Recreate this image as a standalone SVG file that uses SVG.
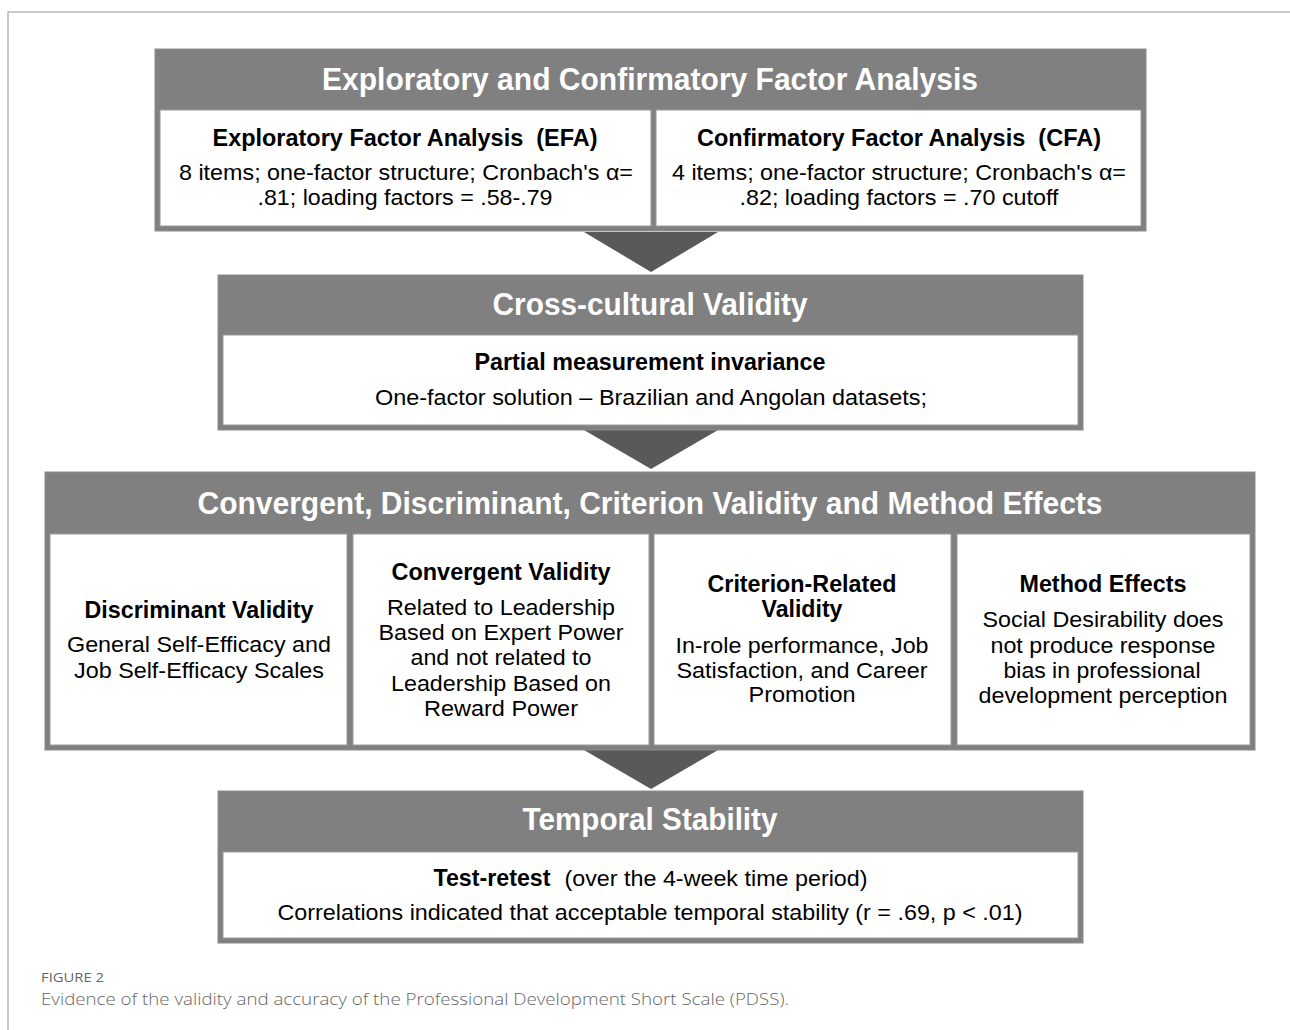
<svg xmlns="http://www.w3.org/2000/svg" width="1290" height="1030" viewBox="0 0 1290 1030">
<style>
.frame{stroke:#b8b8b8;stroke-width:1.5;fill:none}
.outer{fill:#808080;stroke:#8c8c8c;stroke-width:1}
.panel{fill:#ffffff;stroke:#9a9a9a;stroke-width:1}
.arrow{fill:#595959}
.hd{font-family:"Liberation Sans",Arial,sans-serif;font-weight:bold;font-size:31px;fill:#ffffff;text-anchor:middle}
.sh{font-family:"Liberation Sans",Arial,sans-serif;font-weight:bold;font-size:23px;fill:#000000;text-anchor:middle}
.bd{font-family:"Liberation Sans",Arial,sans-serif;font-size:22px;fill:#000000;text-anchor:middle}
.cap1{font-family:"Open Sans","Liberation Sans",sans-serif;font-size:13px;fill:#666666}
.cap2{font-family:"Open Sans","Liberation Sans",sans-serif;font-weight:300;font-size:16.5px;fill:#666666}
</style>
<rect x="0" y="0" width="1290" height="1030" fill="#ffffff"/>
<path class="frame" d="M1290,12 H8 V1030"/>

<g id="connectors">
<polygon class="arrow" points="584,232 718,232 651,272"/>
<polygon class="arrow" points="584,430 718,430 651,469"/>
<polygon class="arrow" points="584,750 718,750 651,789"/>
</g>

<g id="node-factor-analysis">
<rect class="outer" x="155" y="49" width="991" height="182"/>
<text class="hd" x="650" y="90" textLength="656" lengthAdjust="spacingAndGlyphs">Exploratory and Confirmatory Factor Analysis</text>
<g id="node-efa">
<rect class="panel" x="160" y="110" width="491" height="116"/>
<text class="sh" x="405" y="146" textLength="385" lengthAdjust="spacingAndGlyphs" xml:space="preserve">Exploratory Factor Analysis  (EFA)</text>
<text class="bd" x="406" y="180" textLength="454" lengthAdjust="spacingAndGlyphs">8 items; one-factor structure; Cronbach's α=</text>
<text class="bd" x="405" y="205" textLength="295" lengthAdjust="spacingAndGlyphs">.81; loading factors = .58-.79</text>
</g>
<g id="node-cfa">
<rect class="panel" x="656" y="110" width="485" height="116"/>
<text class="sh" x="899" y="146" textLength="404" lengthAdjust="spacingAndGlyphs" xml:space="preserve">Confirmatory Factor Analysis  (CFA)</text>
<text class="bd" x="899" y="180" textLength="454" lengthAdjust="spacingAndGlyphs">4 items; one-factor structure; Cronbach's α=</text>
<text class="bd" x="899" y="205" textLength="319" lengthAdjust="spacingAndGlyphs">.82; loading factors = .70 cutoff</text>
</g>
</g>

<g id="node-cross-cultural">
<rect class="outer" x="218" y="275" width="865" height="155"/>
<text class="hd" x="650" y="315" textLength="315" lengthAdjust="spacingAndGlyphs">Cross-cultural Validity</text>
<rect class="panel" x="223" y="335" width="855" height="90"/>
<text class="sh" x="650" y="370" textLength="351" lengthAdjust="spacingAndGlyphs">Partial measurement invariance</text>
<text class="bd" x="651" y="405" textLength="552" lengthAdjust="spacingAndGlyphs">One-factor solution – Brazilian and Angolan datasets;</text>
</g>

<g id="node-validity">
<rect class="outer" x="45" y="472" width="1210" height="278"/>
<text class="hd" x="650" y="514" textLength="905" lengthAdjust="spacingAndGlyphs">Convergent, Discriminant, Criterion Validity and Method Effects</text>
<g id="node-discriminant">
<rect class="panel" x="50" y="534" width="297" height="211"/>
<text class="sh" x="199" y="618" textLength="229" lengthAdjust="spacingAndGlyphs">Discriminant Validity</text>
<text class="bd" x="199" y="652" textLength="264" lengthAdjust="spacingAndGlyphs">General Self-Efficacy and</text>
<text class="bd" x="199" y="678" textLength="250" lengthAdjust="spacingAndGlyphs">Job Self-Efficacy Scales</text>
</g>
<g id="node-convergent">
<rect class="panel" x="353" y="534" width="296" height="211"/>
<text class="sh" x="501" y="580" textLength="219" lengthAdjust="spacingAndGlyphs">Convergent Validity</text>
<text class="bd" x="501" y="615" textLength="228" lengthAdjust="spacingAndGlyphs">Related to Leadership</text>
<text class="bd" x="501" y="640" textLength="245" lengthAdjust="spacingAndGlyphs">Based on Expert Power</text>
<text class="bd" x="501" y="665" textLength="181" lengthAdjust="spacingAndGlyphs">and not related to</text>
<text class="bd" x="501" y="691" textLength="220" lengthAdjust="spacingAndGlyphs">Leadership Based on</text>
<text class="bd" x="501" y="716" textLength="154" lengthAdjust="spacingAndGlyphs">Reward Power</text>
</g>
<g id="node-criterion">
<rect class="panel" x="654" y="534" width="297" height="211"/>
<text class="sh" x="802" y="592" textLength="189" lengthAdjust="spacingAndGlyphs">Criterion-Related</text>
<text class="sh" x="802" y="617" textLength="81" lengthAdjust="spacingAndGlyphs">Validity</text>
<text class="bd" x="802" y="653" textLength="253" lengthAdjust="spacingAndGlyphs">In-role performance, Job</text>
<text class="bd" x="802" y="678" textLength="251" lengthAdjust="spacingAndGlyphs">Satisfaction, and Career</text>
<text class="bd" x="802" y="702" textLength="107" lengthAdjust="spacingAndGlyphs">Promotion</text>
</g>
<g id="node-method">
<rect class="panel" x="957" y="534" width="293" height="211"/>
<text class="sh" x="1103" y="592" textLength="167" lengthAdjust="spacingAndGlyphs">Method Effects</text>
<text class="bd" x="1103" y="627" textLength="241" lengthAdjust="spacingAndGlyphs">Social Desirability does</text>
<text class="bd" x="1103" y="653" textLength="225" lengthAdjust="spacingAndGlyphs">not produce response</text>
<text class="bd" x="1102" y="678" textLength="197" lengthAdjust="spacingAndGlyphs">bias in professional</text>
<text class="bd" x="1103" y="703" textLength="249" lengthAdjust="spacingAndGlyphs">development perception</text>
</g>
</g>

<g id="node-temporal">
<rect class="outer" x="218" y="791" width="865" height="152"/>
<text class="hd" x="650" y="830" textLength="255" lengthAdjust="spacingAndGlyphs">Temporal Stability</text>
<rect class="panel" x="223" y="852" width="855" height="86"/>
<text class="sh" x="492" y="886" textLength="117" lengthAdjust="spacingAndGlyphs">Test-retest</text>
<text class="bd" x="716" y="886" textLength="303" lengthAdjust="spacingAndGlyphs">(over the 4-week time period)</text>
<text class="bd" x="650" y="920" textLength="745" lengthAdjust="spacingAndGlyphs">Correlations indicated that acceptable temporal stability (r = .69, p &lt; .01)</text>
</g>

<text class="cap1" x="41" y="982" textLength="63" lengthAdjust="spacingAndGlyphs">FIGURE 2</text>
<text class="cap2" x="41" y="1005" textLength="748" lengthAdjust="spacingAndGlyphs">Evidence of the validity and accuracy of the Professional Development Short Scale (PDSS).</text>
</svg>
